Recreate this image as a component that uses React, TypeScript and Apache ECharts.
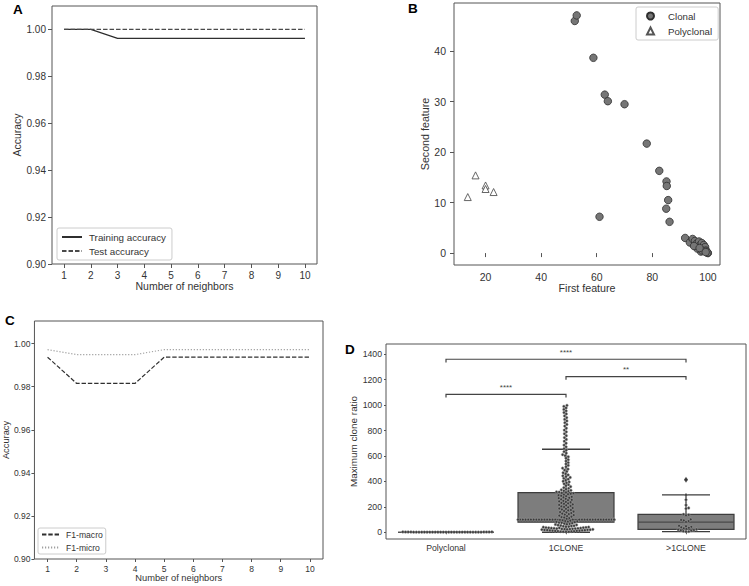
import React, { useEffect, useRef } from 'react';
import * as echarts from 'echarts';

// ---- Panel A / C: k-NN accuracy vs number of neighbors ----
const neighbors = [1, 2, 3, 4, 5, 6, 7, 8, 9, 10];
const trainingAccuracy = [1.0, 1.0, 0.9962, 0.9962, 0.9962, 0.9962, 0.9962, 0.9962, 0.9962, 0.9962];
const testAccuracy = [1.0, 1.0, 1.0, 1.0, 1.0, 1.0, 1.0, 1.0, 1.0, 1.0];
const f1Macro = [0.9937, 0.9815, 0.9815, 0.9815, 0.9937, 0.9937, 0.9937, 0.9937, 0.9937, 0.9937];
const f1Micro = [0.9972, 0.9949, 0.9949, 0.9949, 0.9972, 0.9972, 0.9972, 0.9972, 0.9972, 0.9972];
const accuracyTicks = [0.9, 0.92, 0.94, 0.96, 0.98, 1.0];

// ---- Panel B: feature space ----
const clonalPoints = [
  [52.1, 46.0], [52.8, 47.1], [58.8, 38.7], [62.9, 31.4], [64.0, 30.1], [70.0, 29.5],
  [78.0, 21.7], [82.5, 16.3], [85.1, 14.2], [85.2, 13.3], [85.7, 10.5], [85.0, 8.8],
  [86.2, 6.2], [61.0, 7.2],
  [91.8, 3.0], [93.5, 2.1], [94.5, 2.8], [95.3, 2.4], [96.0, 1.9], [96.8, 2.3],
  [97.3, 1.6], [97.8, 2.0], [98.2, 1.2], [98.5, 1.6], [98.8, 0.8], [99.0, 1.2],
  [99.3, 0.5], [99.6, 0.3], [100.0, 0.0], [99.8, 0.1], [97.5, 0.3], [96.2, 0.9],
  [98.0, 0.5], [99.2, 0.2], [95.0, 1.4], [97.0, 1.0],
];
const polyclonalPoints = [[13.6, 11.1], [16.4, 15.4], [20.0, 13.4], [20.0, 12.7], [22.9, 12.1]];
const featureXTicks = [20, 40, 60, 80, 100];
const featureYTicks = [0, 10, 20, 30, 40];

// ---- Panel D: maximum clone ratio per group ----
const cloneGroups = ['Polyclonal', '1CLONE', '>1CLONE'];
const polyclonalRatios = [1, 1, 1, 1, 2, 1, 1, 2, 1, 1, 1, 3, 1, 1, 2, 1, 1, 1, 2, 1, 1, 1, 1, 2, 1, 1, 3, 1, 1, 1, 2, 1, 1, 1];
const oneCloneRatios = [
  998, 990, 978, 966, 955, 942, 931, 915, 902, 888, 876, 862, 848, 835, 818, 804, 790,
  775, 760, 745, 730, 716, 700, 686, 672, 658,
  646, 634, 622, 611, 603, 594, 583, 571, 560, 548, 537, 526, 515, 504, 497, 489, 478,
  468, 459, 451, 444, 438, 431, 424, 417, 409, 401, 396, 389, 381, 374, 366, 359, 351,
  345, 339, 334, 330, 326, 323,
  318, 316, 313, 309, 306, 303, 299, 296, 291, 287, 284, 279, 275, 271, 268, 263, 259, 255,
  252, 247, 243, 239, 236, 231, 227, 224, 219, 215, 212, 207, 203, 199, 196, 191, 187, 184,
  179, 175, 172, 167, 163, 159, 156, 151, 147, 143, 139, 135, 131, 127, 123, 119, 116, 111, 106,
  100, 100, 100, 100, 100, 100, 100, 100, 100, 100, 100, 100, 100, 100, 100, 100,
  100, 100, 100, 100, 100, 100, 100, 100, 100, 100, 100, 100, 100, 100, 100, 100,
  97, 94, 91, 88, 86, 83, 81, 79, 76, 74, 71, 68, 66, 63, 61, 58, 56, 53, 51, 49, 47, 45,
  43, 41, 40, 38, 37, 36, 35, 34, 33, 32, 31, 30, 29, 28, 27, 26, 25, 24, 23, 22, 21, 20,
  19, 18, 17, 16, 15, 14, 13, 12, 11, 10, 9, 8, 7, 6, 5, 4, 3,
];
const multiCloneRatios = [414, 294, 256, 214, 191, 186, 141, 137, 133, 101, 97, 93, 88, 81, 51, 47, 43, 39, 35, 31, 26, 23, 21, 18, 15, 12, 9, 6, 5];
// [lower whisker, Q1, median, Q3, upper whisker] per group
const boxStats = [
  [0, 0, 0, 0, 0],
  [0, 79, 100, 312, 653],
  [5, 22, 80, 141, 294],
];
const outliers = [[2, 414]];
const ratioTicks = [0, 200, 400, 600, 800, 1000, 1200, 1400];
// [from group, to group, bracket height]
const significance = [
  [0, 1, 1085],
  [1, 2, 1225],
  [0, 2, 1361],
];
const significanceLabels = ['****', '**', '****'];

const FONT = '"Liberation Sans", Arial, Helvetica, sans-serif';
const TEXT = '#333333';
const FRAME = '#555555';

const swarmRows: number[][] = [
  ...polyclonalRatios.map((v) => [0, v]),
  ...oneCloneRatios.map((v) => [1, v]),
  ...multiCloneRatios.map((v) => [2, v]),
];

const DOT_R = 1.35;
let swarmOffsets: number[] | null = null;

// Beeswarm placement: each point goes to the free horizontal slot nearest the group centre.
function computeSwarm(api: any): number[] {
  const offsets = new Array(swarmRows.length).fill(0);
  const band = api.size([1, 0])[0];
  const maxHalf = band * 0.4;
  const d = DOT_R * 2;
  for (let g = 0; g < cloneGroups.length; g++) {
    const idx = swarmRows.map((r, i) => (r[0] === g ? i : -1)).filter((i) => i >= 0);
    idx.sort((a, b) => swarmRows[a][1] - swarmRows[b][1]);
    const placed: { x: number; y: number }[] = [];
    for (const i of idx) {
      const y = api.coord([g, swarmRows[i][1]])[1];
      const near = placed.filter((p) => Math.abs(p.y - y) < d);
      const cands = [0];
      for (const n of near) {
        const dx = Math.sqrt(Math.max(0, d * d - (n.y - y) * (n.y - y)));
        cands.push(n.x + dx, n.x - dx);
      }
      cands.sort((a, b) => Math.abs(a) - Math.abs(b));
      let chosen = cands[cands.length - 1];
      for (const c of cands) {
        const ok = near.every((n) => (c - n.x) * (c - n.x) + (n.y - y) * (n.y - y) >= d * d - 1e-6);
        if (ok) {
          chosen = c;
          break;
        }
      }
      chosen = Math.max(-maxHalf, Math.min(maxHalf, chosen));
      placed.push({ x: chosen, y });
      offsets[i] = chosen;
    }
  }
  return offsets;
}

function tickText(size: number) {
  return { fontSize: size, color: TEXT, fontFamily: FONT };
}

export default function App() {
  const ref = useRef<HTMLDivElement>(null);

  useEffect(() => {
    if (!ref.current) return;
    swarmOffsets = null;
    const chart = echarts.init(ref.current, null, { renderer: 'svg' });

    const gridBase = { show: true, borderColor: FRAME, borderWidth: 1, backgroundColor: 'transparent' };
    const legendBox = { borderColor: '#cccccc', borderWidth: 1, borderRadius: 2, orient: 'vertical' };

    const option: any = {
      animation: false,
      backgroundColor: '#ffffff',
      textStyle: { fontFamily: FONT },
      grid: [
        { ...gridBase, left: 52, top: 6, width: 265, height: 258 },
        { ...gridBase, left: 454, top: 3, width: 266, height: 262 },
        { ...gridBase, left: 33, top: 321, width: 290, height: 238 },
        { ...gridBase, left: 386, top: 344, width: 360, height: 195 },
      ],
      xAxis: [
        {
          type: 'value', gridIndex: 0, min: 0.55, max: 10.45,
          splitLine: { show: false }, axisLine: { show: false },
          axisTick: { show: true, length: 4, customValues: neighbors, lineStyle: { color: FRAME } },
          axisLabel: { customValues: neighbors, margin: 6, ...tickText(10) },
          name: 'Number of neighbors', nameLocation: 'middle', nameGap: 16,
          nameTextStyle: tickText(10.5),
        },
        {
          type: 'value', gridIndex: 1, min: 8.65, max: 104.35,
          splitLine: { show: false }, axisLine: { show: false },
          axisTick: { show: true, length: 4, customValues: featureXTicks, lineStyle: { color: FRAME } },
          axisLabel: { customValues: featureXTicks, margin: 6, ...tickText(10.5) },
          name: 'First feature', nameLocation: 'middle', nameGap: 16,
          nameTextStyle: tickText(10.7),
        },
        {
          type: 'value', gridIndex: 2, min: 0.55, max: 10.45,
          splitLine: { show: false }, axisLine: { show: false },
          axisTick: { show: true, length: 3, customValues: neighbors, lineStyle: { color: FRAME } },
          axisLabel: { customValues: neighbors, margin: 5, ...tickText(8.5) },
          name: 'Number of neighbors', nameLocation: 'middle', nameGap: 14,
          nameTextStyle: tickText(9.3),
        },
        {
          type: 'category', gridIndex: 3, data: cloneGroups, boundaryGap: true,
          splitLine: { show: false }, axisLine: { show: false },
          axisTick: { show: true, length: 2, alignWithLabel: true, lineStyle: { color: FRAME } },
          axisLabel: { margin: 4, ...tickText(8.7) },
        },
      ],
      yAxis: [
        {
          type: 'value', gridIndex: 0, min: 0.9, max: 1.01,
          splitLine: { show: false }, axisLine: { show: false },
          axisTick: { show: true, length: 4, customValues: accuracyTicks, lineStyle: { color: FRAME } },
          axisLabel: { customValues: accuracyTicks, margin: 6, formatter: (v: number) => v.toFixed(2), ...tickText(10) },
          name: 'Accuracy', nameLocation: 'middle', nameGap: 26,
          nameTextStyle: tickText(10.5),
        },
        {
          type: 'value', gridIndex: 1, min: -2.36, max: 49.56,
          splitLine: { show: false }, axisLine: { show: false },
          axisTick: { show: true, length: 4, customValues: featureYTicks, lineStyle: { color: FRAME } },
          axisLabel: { customValues: featureYTicks, margin: 8, ...tickText(10.5) },
          name: 'Second feature', nameLocation: 'middle', nameGap: 19,
          nameTextStyle: tickText(10.7),
        },
        {
          type: 'value', gridIndex: 2, min: 0.9, max: 1.0105,
          splitLine: { show: false }, axisLine: { show: false },
          axisTick: { show: true, length: 3, customValues: accuracyTicks, lineStyle: { color: FRAME } },
          axisLabel: { customValues: accuracyTicks, margin: 4, formatter: (v: number) => v.toFixed(2), ...tickText(8.5) },
          name: 'Accuracy', nameLocation: 'middle', nameGap: 22,
          nameTextStyle: tickText(9.3),
        },
        {
          type: 'value', gridIndex: 3, min: -53, max: 1481,
          splitLine: { show: false }, axisLine: { show: false },
          axisTick: { show: true, length: 2, customValues: ratioTicks, lineStyle: { color: FRAME } },
          axisLabel: { customValues: ratioTicks, margin: 4, formatter: (v: number) => String(v), ...tickText(8.7) },
          name: 'Maximum clone ratio', nameLocation: 'middle', nameGap: 21,
          nameTextStyle: tickText(9.9),
        },
      ],
      legend: [
        {
          ...legendBox,
          data: ['Training accuracy', 'Test accuracy'],
          left: 57, top: 228,
          itemWidth: 20, itemHeight: 10, itemGap: 2,
          padding: [3, 6, 3, 4],
          itemStyle: { opacity: 0 },
          textStyle: { fontSize: 9.8, color: TEXT, fontFamily: FONT, lineHeight: 12, padding: [0, 0, 0, 2] },
        },
        {
          ...legendBox,
          data: ['Clonal', 'Polyclonal'],
          left: 636, top: 7,
          itemWidth: 7, itemHeight: 7, itemGap: 3,
          padding: [3, 6, 3, 10],
          textStyle: { fontSize: 9.7, color: TEXT, fontFamily: FONT, lineHeight: 12, padding: [0, 0, 0, 9] },
        },
        {
          ...legendBox,
          data: ['F1-macro', 'F1-micro'],
          left: 38, top: 528,
          itemWidth: 17, itemHeight: 9, itemGap: 2,
          padding: [1, 3, 1, 3],
          itemStyle: { opacity: 0 },
          textStyle: { fontSize: 8.6, color: TEXT, fontFamily: FONT, lineHeight: 11, padding: [0, 0, 0, 2] },
        },
      ],
      graphic: [
        { type: 'text', left: 13, top: 2, style: { text: 'A', font: `bold 13.5px ${FONT}`, fill: '#000' } },
        { type: 'text', left: 408, top: 1, style: { text: 'B', font: `bold 13.5px ${FONT}`, fill: '#000' } },
        { type: 'text', left: 5, top: 313, style: { text: 'C', font: `bold 13.5px ${FONT}`, fill: '#000' } },
        { type: 'text', left: 345, top: 342, style: { text: 'D', font: `bold 13.5px ${FONT}`, fill: '#000' } },
      ],
      series: [
        {
          type: 'line', name: 'Training accuracy', xAxisIndex: 0, yAxisIndex: 0,
          data: neighbors.map((n, i) => [n, trainingAccuracy[i]]),
          symbol: 'none', color: '#2f2f2f',
          lineStyle: { color: '#2f2f2f', width: 1.3, type: 'solid' },
        },
        {
          type: 'line', name: 'Test accuracy', xAxisIndex: 0, yAxisIndex: 0,
          data: neighbors.map((n, i) => [n, testAccuracy[i]]),
          symbol: 'none', color: '#4a4a4a',
          lineStyle: { color: '#4a4a4a', width: 1.3, type: [4.5, 2] },
        },
        {
          type: 'scatter', name: 'Clonal', xAxisIndex: 1, yAxisIndex: 1,
          data: clonalPoints, symbol: 'circle', symbolSize: 7.5,
          itemStyle: { color: '#767676', borderColor: '#2e2e2e', borderWidth: 0.8, opacity: 1 },
        },
        {
          type: 'scatter', name: 'Polyclonal', xAxisIndex: 1, yAxisIndex: 1,
          data: polyclonalPoints, symbol: 'triangle', symbolSize: 7,
          itemStyle: { color: '#ffffff', borderColor: '#555555', borderWidth: 0.9, opacity: 1 },
        },
        {
          type: 'line', name: 'F1-macro', xAxisIndex: 2, yAxisIndex: 2,
          data: neighbors.map((n, i) => [n, f1Macro[i]]),
          symbol: 'none', color: '#2f2f2f',
          lineStyle: { color: '#2f2f2f', width: 1.2, type: [4.4, 1.9] },
        },
        {
          type: 'line', name: 'F1-micro', xAxisIndex: 2, yAxisIndex: 2,
          data: neighbors.map((n, i) => [n, f1Micro[i]]),
          symbol: 'none', color: '#a0a0a0',
          lineStyle: { color: '#a0a0a0', width: 1.2, type: [1.2, 1.8] },
        },
        {
          type: 'custom', name: 'boxes', xAxisIndex: 3, yAxisIndex: 3, z: 2,
          data: boxStats.map((s, i) => [i, ...s]),
          encode: { x: 0, y: [1, 2, 3, 4, 5] },
          renderItem: (params: any, api: any) => {
            const cat = api.value(0);
            const band = api.size([1, 0])[0];
            const half = band * 0.4;
            const capHalf = band * 0.2;
            const pLo = api.coord([cat, api.value(1)]);
            const pQ1 = api.coord([cat, api.value(2)]);
            const pMed = api.coord([cat, api.value(3)]);
            const pQ3 = api.coord([cat, api.value(4)]);
            const pHi = api.coord([cat, api.value(5)]);
            const x = pLo[0];
            const edge = { stroke: '#3d3d3d', lineWidth: 1.3 };
            return {
              type: 'group',
              children: [
                { type: 'line', shape: { x1: x, y1: pLo[1], x2: x, y2: pQ1[1] }, style: edge },
                { type: 'line', shape: { x1: x, y1: pQ3[1], x2: x, y2: pHi[1] }, style: edge },
                { type: 'line', shape: { x1: x - capHalf, y1: pLo[1], x2: x + capHalf, y2: pLo[1] }, style: edge },
                { type: 'line', shape: { x1: x - capHalf, y1: pHi[1], x2: x + capHalf, y2: pHi[1] }, style: edge },
                {
                  type: 'rect',
                  shape: { x: x - half, y: pQ3[1], width: half * 2, height: pQ1[1] - pQ3[1] },
                  style: { fill: '#7d7d7d', stroke: '#3d3d3d', lineWidth: 1.2 },
                },
                { type: 'line', shape: { x1: x - half, y1: pMed[1], x2: x + half, y2: pMed[1] }, style: { stroke: '#4a4a4a', lineWidth: 1.2 } },
              ],
            };
          },
        },
        {
          type: 'custom', name: 'swarm', xAxisIndex: 3, yAxisIndex: 3, z: 3,
          data: swarmRows,
          encode: { x: 0, y: 1 },
          renderItem: (params: any, api: any) => {
            if (!swarmOffsets) swarmOffsets = computeSwarm(api);
            const p = api.coord([api.value(0), api.value(1)]);
            return {
              type: 'circle',
              shape: { cx: p[0] + swarmOffsets[params.dataIndex], cy: p[1], r: DOT_R },
              style: { fill: '#3a3a3a', stroke: '#a5a5a5', lineWidth: 0.5 },
            };
          },
        },
        {
          type: 'scatter', name: 'outliers', xAxisIndex: 3, yAxisIndex: 3, z: 4,
          data: outliers, symbol: 'diamond', symbolSize: [4, 6],
          itemStyle: { color: '#333333' },
        },
        {
          type: 'custom', name: 'significance', xAxisIndex: 3, yAxisIndex: 3, z: 5,
          data: significance,
          encode: { x: [0, 1], y: 2 },
          renderItem: (params: any, api: any) => {
            const a = api.coord([api.value(0), api.value(2)]);
            const b = api.coord([api.value(1), api.value(2)]);
            const tip = 3.2;
            return {
              type: 'group',
              children: [
                {
                  type: 'polyline',
                  shape: { points: [[a[0], a[1] + tip], [a[0], a[1]], [b[0], a[1]], [b[0], a[1] + tip]] },
                  style: { stroke: '#444444', lineWidth: 1.2, fill: 'none' },
                },
                {
                  type: 'text',
                  style: {
                    x: (a[0] + b[0]) / 2, y: a[1] - 3,
                    text: significanceLabels[params.dataIndex],
                    align: 'center', verticalAlign: 'bottom',
                    font: `8px ${FONT}`, fill: '#444444',
                  },
                },
              ],
            };
          },
        },
      ],
    };

    chart.setOption(option);
    return () => chart.dispose();
  }, []);

  return (
    <div
      ref={ref}
      style={{ position: 'absolute', left: 0, top: 0, width: 749, height: 586, background: '#fff' }}
    />
  );
}
